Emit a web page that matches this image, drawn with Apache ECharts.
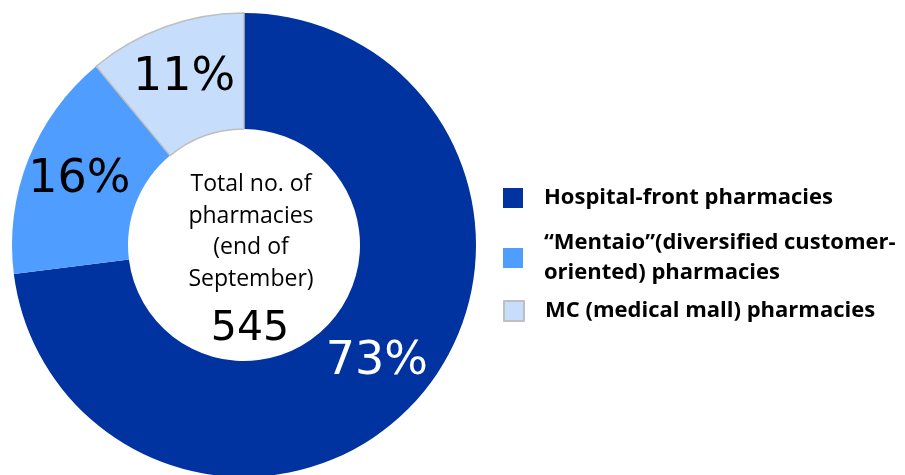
<!DOCTYPE html>
<html>
<head>
<meta charset="utf-8">
<script src="https://cdn.jsdelivr.net/npm/echarts@6/dist/echarts.min.js"></script>
<style>
  html, body { margin: 0; padding: 0; background: #fff; }
  #chart { width: 905px; height: 475px; }
</style>
</head>
<body>
<div id="chart"></div>
<script>
// pharmacy types and their share (%) of the 545 stores
const categories = [
  'Hospital-front pharmacies',
  '\u201cMentaio\u201d(diversified customer-\noriented) pharmacies',
  'MC (medical mall) pharmacies'
]
const shares = [73, 16, 11]
const totalCount = 545
const centerLines = ['Total no. of', 'pharmacies', '(end of', 'September)']

const colors = ['#0033A0', '#4F9DFF', '#C6DEFC']
const labelColors = ['#fff', '#000', '#000']

const chart = echarts.init(document.getElementById('chart'))

const pieData = categories.map((name, i) => ({
  name: name,
  value: shares[i],
  itemStyle: i === 2
    ? { color: colors[i], borderColor: '#BFBFBF', borderWidth: 1.5 }
    : { color: colors[i], borderWidth: 0 },
  label: { color: labelColors[i] }
}))

// one legend per item so the spacing can follow the picture
const legendTops = [186, 228, 299]
const legends = categories.map((name, i) => ({
  data: [name],
  orient: 'vertical',
  left: 503,
  top: legendTops[i],
  padding: 0,
  itemGap: 0,
  itemWidth: 20,
  itemHeight: 20,
  icon: 'rect',
  selectedMode: false,
  textStyle: {
    fontFamily: 'Open Sans',
    fontWeight: 'bold',
    fontSize: 22,
    lineHeight: i === 1 ? 30 : 24,
    color: '#000',
    padding: [0, 0, 0, 16]
  }
}))

const option = {
  animation: false,
  legend: legends,
  graphic: [
    {
      type: 'text',
      x: 251,
      y: 232,
      style: {
        text: centerLines.join('\n'),
        font: '23px "Open Sans"',
        lineHeight: 31.5,
        fill: '#000',
        textAlign: 'center',
        textVerticalAlign: 'middle'
      }
    },
    {
      type: 'text',
      x: 250,
      y: 329,
      style: {
        text: String(totalCount),
        font: '41px "DejaVu Sans"',
        fill: '#000',
        textAlign: 'center',
        textVerticalAlign: 'middle'
      }
    }
  ],
  series: [
    {
      type: 'pie',
      center: [244, 245],
      radius: [116, 232],
      startAngle: 90,
      clockwise: true,
      silent: true,
      label: {
        show: true,
        position: 'inside',
        formatter: '{c}%',
        fontFamily: 'DejaVu Sans',
        fontSize: 46
      },
      labelLine: { show: false },
      data: pieData
    }
  ]
}

chart.setOption(option)
</script>
</body>
</html>
